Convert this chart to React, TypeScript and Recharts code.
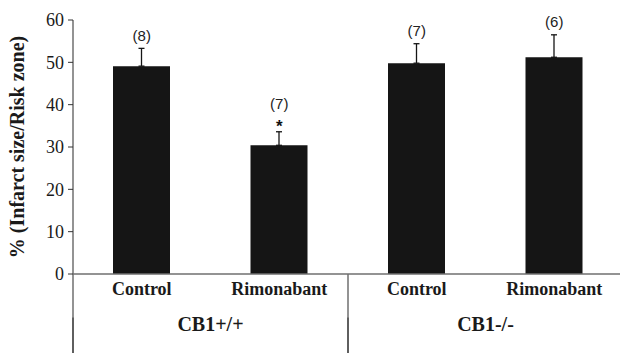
import React from 'react';
import {
  ComposedChart, Bar, Line, XAxis, YAxis, ErrorBar, LabelList, ReferenceLine
} from 'recharts';

// values (mean +/- SEM, % infarct size / risk zone)
const categoryKeys = ['wt-control', 'wt-rimonabant', 'ko-control', 'ko-rimonabant'];
const categoryLabels = ['Control', 'Rimonabant', 'Control', 'Rimonabant'];
const groupLabels = ['CB1+/+', 'CB1+/+', 'CB1-/-', 'CB1-/-'];
const meanValues = [49.1, 30.4, 49.8, 51.2];
const semValues = [4.2, 3.2, 4.6, 5.3];
const nLabels = ['(8)', '(7)', '(7)', '(6)'];
const significant = [false, true, false, false];
const yTicks = [0, 10, 20, 30, 40, 50, 60];

const SERIF = '"Liberation Serif", "Times New Roman", Times, serif';
const SANS = '"Liberation Sans", Arial, Helvetica, sans-serif';
const AXIS_GREY = '#6f6f6f';
const BAR_COLOR = '#151515';

const data = categoryKeys.map((key, i) => ({
  key,
  label: categoryLabels[i],
  group: groupLabels[i],
  mean: meanValues[i],
  err: [0, semValues[i]],
  top: meanValues[i] + semValues[i],
  n: nLabels[i],
  sig: significant[i],
}));

const labelFor = (key: string) => {
  const i = categoryKeys.indexOf(key);
  return i >= 0 ? categoryLabels[i] : key;
};

const NLabel = (props: any) => {
  const { x, y, index } = props;
  const row = data[index];
  if (!row) return null;
  return (
    <g>
      <text
        x={x}
        y={row.sig ? y - 22.5 : y - 7.5}
        textAnchor="middle"
        fontFamily={SANS}
        fontSize={15}
        fill="#222"
      >
        {row.n}
      </text>
      {row.sig && (
        <text x={x} y={y + 0.5} textAnchor="middle" fontFamily={SANS} fontWeight="bold" fontSize={17} fill="#111">
          *
        </text>
      )}
    </g>
  );
};

export default function App() {
  return (
    <div style={{ position: 'absolute', left: 0, top: 0, width: 620, height: 353, overflow: 'hidden', background: '#fff' }}>
      <ComposedChart
        width={630}
        height={353}
        data={data}
        margin={{ top: 20, right: 7, bottom: 0, left: 0 }}
      >
        <XAxis
          xAxisId="cat"
          dataKey="key"
          tickFormatter={labelFor}
          axisLine={{ stroke: AXIS_GREY, strokeWidth: 1.5 }}
          tickLine={false}
          height={32}
          interval={0}
          tick={{ fontFamily: SERIF, fontSize: 18, fontWeight: 'bold', fill: '#1a1a1a' }}
        />
        <XAxis
          xAxisId="grp"
          dataKey="group"
          allowDuplicatedCategory={false}
          axisLine={false}
          tickLine={false}
          tickSize={0}
          tickMargin={11}
          height={47}
          interval={0}
          tick={{ fontFamily: SERIF, fontSize: 20, fontWeight: 'bold', fill: '#1a1a1a' }}
        />
        <YAxis
          domain={[0, 60]}
          ticks={yTicks}
          width={73}
          axisLine={{ stroke: AXIS_GREY, strokeWidth: 1.5 }}
          tickLine={{ stroke: '#333' }}
          tickSize={5}
          tickMargin={4}
          tick={{ fontFamily: SERIF, fontSize: 18, fill: '#1a1a1a' }}
          label={{
            value: '% (Infarct size/Risk zone)',
            angle: -90,
            position: 'insideLeft',
            offset: 17,
            style: { textAnchor: 'middle', fontFamily: SERIF, fontSize: 20, fontWeight: 'bold', fill: '#1a1a1a' },
          }}
        />
        <Bar xAxisId="cat" dataKey="mean" fill={BAR_COLOR} barSize={57} isAnimationActive={false}>
          <ErrorBar dataKey="err" direction="y" width={3} stroke={BAR_COLOR} strokeWidth={1.3} />
        </Bar>
        <Line
          xAxisId="cat"
          dataKey="top"
          stroke="none"
          dot={false}
          activeDot={false}
          isAnimationActive={false}
        >
          <LabelList dataKey="n" content={NLabel} />
        </Line>
        {/* group separators below the category axis */}
        {['wt-control', 'ko-control'].map((k) => (
          <ReferenceLine
            key={k + '-a'}
            xAxisId="cat"
            position="start"
            ifOverflow="visible"
            segment={[{ x: k, y: 0 }, { x: k, y: -10.2 }]}
            stroke={AXIS_GREY}
            strokeWidth={1.5}
          />
        ))}
        {['wt-control', 'ko-control'].map((k) => (
          <ReferenceLine
            key={k + '-b'}
            xAxisId="cat"
            position="start"
            ifOverflow="visible"
            segment={[{ x: k, y: -10.2 }, { x: k, y: -19 }]}
            stroke="#2a2a2a"
            strokeWidth={1.5}
          />
        ))}
      </ComposedChart>
    </div>
  );
}
